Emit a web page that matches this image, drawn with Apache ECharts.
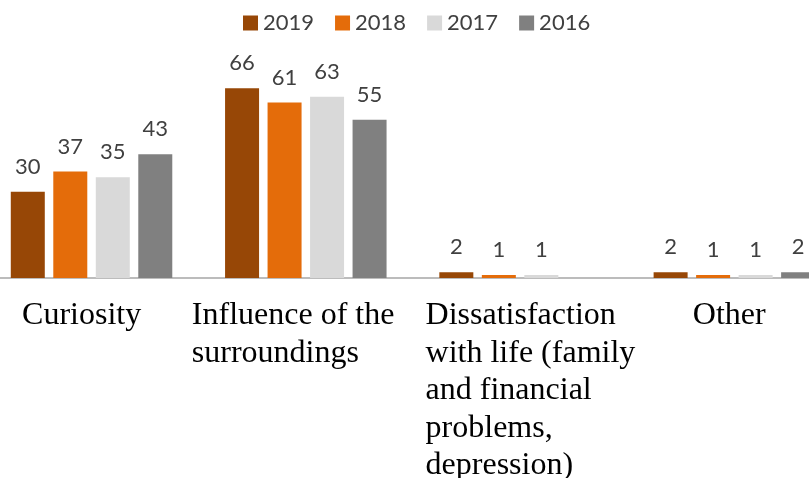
<!DOCTYPE html>
<html>
<head>
<meta charset="utf-8">
<script src="https://cdn.jsdelivr.net/npm/echarts@6/dist/echarts.min.js"></script>
<style>html,body{margin:0;padding:0;background:#fff}#c{width:809px;height:478px}</style>
</head>
<body>
<div id="c"></div>
<script>
const categories = ['Curiosity', 'Influence of the\nsurroundings', 'Dissatisfaction\nwith life (family\nand financial\nproblems,\ndepression)', 'Other'];
const seriesNames = ['2019', '2018', '2017', '2016'];
const v2019 = [30, 66, 2, 2];
const v2018 = [37, 61, 1, 1];
const v2017 = [35, 63, 1, 1];
const v2016 = [43, 55, '-', 2];
const colors = ['#974706', '#E46C0A', '#D9D9D9', '#808080'];
const labelWidths = [139, 228, 189, 83];

const rich = {};
labelWidths.forEach((w, i) => {
  rich['c' + i] = { width: w, align: 'left', fontFamily: '"Liberation Serif", "Times New Roman", serif', fontSize: 32, lineHeight: 37.5, color: '#000' };
});

const chart = echarts.init(document.getElementById('c'), null, { renderer: 'canvas' });
const values = [v2019, v2018, v2017, v2016];
chart.setOption({
  animation: false,
  backgroundColor: '#fff',
  legend: {
    top: 12, left: 243, padding: 0,
    itemWidth: 15, itemHeight: 15, itemGap: 21,
    icon: 'rect',
    textStyle: { fontFamily: 'Lato, "Open Sans", sans-serif', fontSize: 22, color: '#404040' },
    data: seriesNames
  },
  grid: { left: -15.6, right: -32.5, top: 76.7, bottom: 200, containLabel: false, outerBoundsMode: 'none' },
  xAxis: {
    type: 'category',
    data: categories,
    axisLine: { show: true, lineStyle: { color: '#A6A6A6', width: 1.5 } },
    axisTick: { show: false },
    axisLabel: {
      interval: 0, hideOverlap: false, margin: 19, verticalAlign: 'top',
      formatter: (val, idx) => val.split('\n').map(l => '{c' + idx + '|' + l + '}').join('\n'),
      rich: rich
    }
  },
  yAxis: { type: 'value', min: 0, max: 70, show: false, splitLine: { show: false } },
  series: seriesNames.map((n, i) => ({
    name: n, type: 'bar', data: values[i],
    barWidth: 34, barGap: '25%',
    itemStyle: { color: colors[i] },
    label: { show: true, position: 'top', distance: 14, fontFamily: 'Lato, "Open Sans", sans-serif', fontSize: 22, color: '#404040' }
  }))
});
</script>
</body>
</html>
